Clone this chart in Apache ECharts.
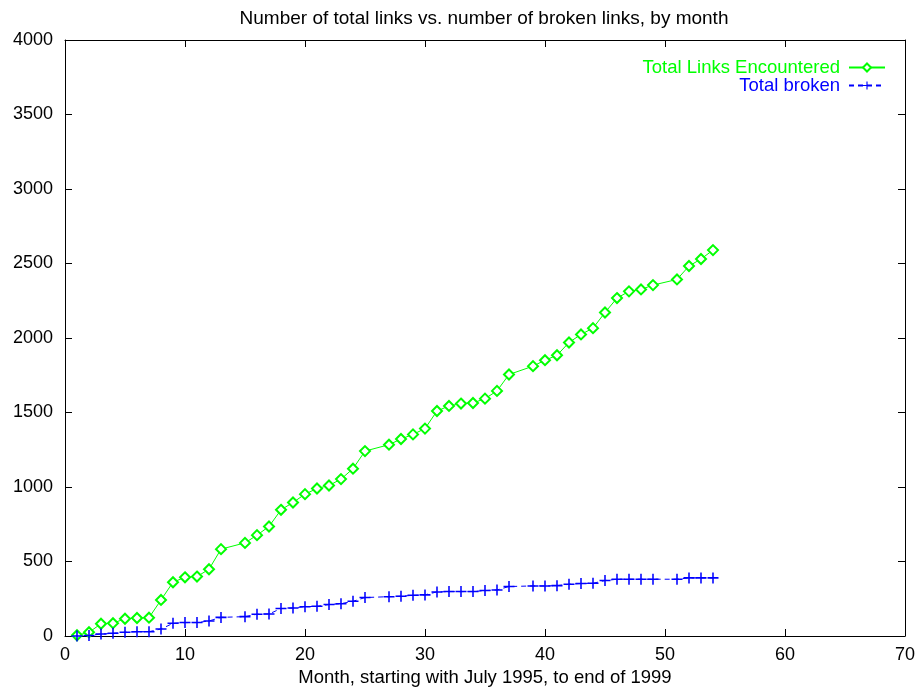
<!DOCTYPE html>
<html>
<head>
<meta charset="utf-8">
<script src="https://cdn.jsdelivr.net/npm/echarts@6/dist/echarts.min.js"></script>
<style>
  html, body { margin: 0; padding: 0; background: #fff; }
  #chart { width: 918px; height: 687px; }
</style>
</head>
<body>
<div id="chart"></div>
<script>
// months with data (14, 26, 38, 50 are missing)
var months = [1, 2, 3, 4, 5, 6, 7, 8, 9, 10, 11, 12, 13, 15, 16, 17, 18, 19, 20, 21, 22, 23, 24, 25,
  27, 28, 29, 30, 31, 32, 33, 34, 35, 36, 37, 39, 40, 41, 42, 43, 44, 45, 46, 47, 48, 49, 51, 52, 53, 54];
var totalLinks = [5, 25, 82, 86, 116, 121, 123, 242, 361, 394, 399, 448, 583, 625, 677, 735, 847, 896, 952, 990, 1010, 1053, 1123, 1241,
  1284, 1322, 1353, 1392, 1510, 1544, 1560, 1564, 1593, 1645, 1755, 1811, 1851, 1884, 1970, 2024, 2066, 2171, 2268, 2313, 2326, 2355, 2393, 2483, 2530, 2590];
var totalBroken = [0, 3, 13, 18, 25, 29, 29, 47, 85, 90, 90, 101, 125, 130, 146, 148, 184, 188, 197, 199, 211, 217, 233, 258,
  264, 267, 273, 276, 296, 298, 298, 298, 305, 309, 332, 336, 336, 338, 347, 352, 354, 372, 381, 381, 381, 381, 381, 390, 390, 390];

function pairs(xs, ys) {
  return xs.map(function (x, i) { return [x, ys[i]]; });
}

var font = "'Liberation Sans', Arial, sans-serif";
var plus = 'path://M4.3,0 L5.7,0 L5.7,4.3 L10,4.3 L10,5.7 L5.7,5.7 L5.7,10 L4.3,10 L4.3,5.7 L0,5.7 L0,4.3 L4.3,4.3 Z';

var chart = echarts.init(document.getElementById('chart'));
var axisLine = { show: true, onZero: false, lineStyle: { color: '#000', width: 1 } };
var tick = { show: true, inside: true, length: 7, lineStyle: { color: '#000' } };
var plain = function (v) { return String(v); };

var option = {
  animation: false,
  backgroundColor: '#fff',
  title: {
    text: 'Number of total links vs. number of broken links, by month',
    left: 479,
    textAlign: 'center',
    top: 4,
    textStyle: { fontFamily: font, fontSize: 19, fontWeight: 'normal', color: '#000' }
  },
  grid: { left: 65, right: 13, top: 40, bottom: 51, outerBoundsMode: 'none', containLabel: false },
  legend: {
    orient: 'vertical',
    right: 27,
    top: 53,
    align: 'right',
    itemWidth: 36,
    itemHeight: 10,
    itemGap: -1,
    textStyle: { fontFamily: font, fontSize: 18.5, padding: [0, 4, 0, 0] },
    data: [
      { name: 'Total Links Encountered', textStyle: { color: '#00ff00' } },
      { name: 'Total broken', textStyle: { color: '#0000ff' } }
    ]
  },
  xAxis: [{
    type: 'value',
    min: 0, max: 70, interval: 10,
    name: 'Month, starting with July 1995, to end of 1999',
    nameLocation: 'middle',
    nameGap: 28,
    nameTextStyle: { fontFamily: font, fontSize: 18.5, color: '#000' },
    axisLine: axisLine,
    axisTick: tick,
    axisLabel: { fontFamily: font, fontSize: 18, color: '#000', margin: 10, formatter: plain },
    splitLine: { show: false }
  }, {
    type: 'value', position: 'top',
    min: 0, max: 70, interval: 10,
    axisLine: axisLine, axisTick: tick,
    axisLabel: { show: false }, splitLine: { show: false }
  }],
  yAxis: [{
    type: 'value',
    min: 0, max: 4000, interval: 500,
    axisLine: axisLine,
    axisTick: tick,
    axisLabel: { fontFamily: font, fontSize: 18, color: '#000', margin: 12, formatter: plain },
    splitLine: { show: false }
  }, {
    type: 'value', position: 'right',
    min: 0, max: 4000, interval: 500,
    axisLine: axisLine, axisTick: tick,
    axisLabel: { show: false }, splitLine: { show: false }
  }],
  series: [
    {
      name: 'Total Links Encountered',
      type: 'line',
      data: pairs(months, totalLinks),
      symbol: 'emptyDiamond',
      symbolSize: 10,
      showAllSymbol: true,
      color: '#00ff00',
      lineStyle: { color: '#00ff00', width: 1 },
      itemStyle: { color: '#00ff00', borderColor: '#00ff00', borderWidth: 1 }
    },
    {
      name: 'Total broken',
      type: 'line',
      data: pairs(months, totalBroken),
      symbol: plus,
      symbolSize: 11,
      showAllSymbol: true,
      color: '#0000ff',
      lineStyle: { color: '#0000ff', width: 1, type: [5, 4] },
      itemStyle: { color: '#0000ff', borderWidth: 0 }
    }
  ]
};
chart.setOption(option);
</script>
</body>
</html>
